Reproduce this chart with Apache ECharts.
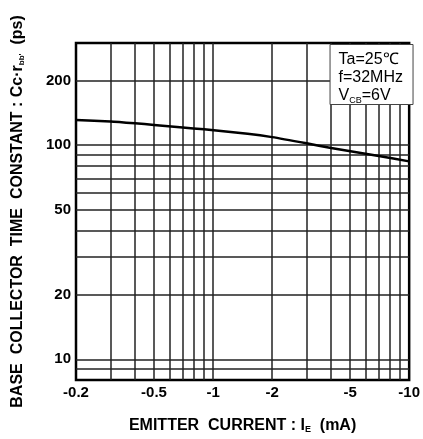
<!DOCTYPE html>
<html>
<head>
<meta charset="utf-8">
<script src="https://cdn.jsdelivr.net/npm/echarts@6/dist/echarts.min.js"></script>
<style>
html,body{margin:0;padding:0;background:#fff;}
#chart{width:423px;height:439px;}
</style>
</head>
<body>
<div id="chart"></div>
<script>
// Emitter current magnitude (mA); displayed with a minus sign
const currentMA = [0.2, 0.3, 0.4, 0.5, 0.7, 0.9, 1.5, 2, 3, 4, 7, 10];
// Base collector time constant (ps)
const timeConstPs = [131, 129, 126.5, 124.3, 121, 118.5, 113, 109, 102, 97, 89, 84];

const xTickLabels = [0.2, 0.5, 1, 2, 5, 10];
const xGridValues = [0.3, 0.4, 0.5, 0.6, 0.7, 0.8, 0.9, 1, 2, 3, 4, 5, 6, 7, 8, 9];
const yTickLabels = [10, 20, 50, 100, 200];
const yGridValues = [9, 10, 20, 30, 40, 50, 60, 70, 80, 90, 100, 200];

const font = '"Liberation Sans", Arial, Helvetica, sans-serif';

const chart = echarts.init(document.getElementById('chart'), null, {renderer: 'canvas'});

chart.setOption({
  animation: false,
  backgroundColor: '#fff',
  title: {
    right: 10,
    top: 43,
    padding: [8, 10, 0, 9],
    backgroundColor: '#fff',
    borderColor: '#444',
    borderWidth: 1,
    text: '{t|Ta=25℃}\n{t|f=32MHz}\n{t|V}{s|CB}{t|=6V}',
    textStyle: {
      rich: {
        t: {fontFamily: font, fontSize: 16, fontWeight: 'normal', color: '#000', lineHeight: 18},
        s: {fontFamily: font, fontSize: 9, fontWeight: 'normal', color: '#000', lineHeight: 18, verticalAlign: 'bottom', padding: [6, 0, 0, 0]}
      }
    },
    z: 10
  },
  grid: {
    left: 76, right: 10, top: 43, bottom: 56,
    show: true, borderColor: '#000', borderWidth: 2.5,
    containLabel: false
  },
  xAxis: {
    type: 'log',
    logBase: 10,
    min: 0.2,
    max: 10,
    name: '{t|EMITTER  CURRENT : I}{s|E}{t|  (mA)}',
    nameLocation: 'middle',
    nameGap: 38,
    nameTextStyle: {
      rich: {
        t: {fontFamily: font, fontSize: 16, fontWeight: 'bold', color: '#000'},
        s: {fontFamily: font, fontSize: 9, fontWeight: 'bold', color: '#000', verticalAlign: 'bottom', padding: [5, 0, 0, 0]}
      }
    },
    axisLine: {show: false},
    axisTick: {show: false, customValues: xGridValues},
    axisLabel: {
      customValues: xTickLabels,
      formatter: v => '-' + v,
      fontFamily: font, fontSize: 15, fontWeight: 'bold', color: '#000', margin: 5,
      showMinLabel: true, showMaxLabel: true
    },
    splitLine: {show: true, lineStyle: {color: '#222', width: 1.5}},
    minorSplitLine: {show: false}
  },
  yAxis: {
    type: 'log',
    logBase: 10,
    min: 8,
    max: 300,
    name: '{t|BASE  COLLECTOR  TIME  CONSTANT : Cc·r}{s|bb\'}{t|  (ps)}',
    nameLocation: 'middle',
    nameGap: 50,
    nameRotate: 90,
    nameTextStyle: {
      rich: {
        t: {fontFamily: font, fontSize: 16, fontWeight: 'bold', color: '#000'},
        s: {fontFamily: font, fontSize: 8, fontWeight: 'bold', color: '#000', verticalAlign: 'bottom', padding: [5, 0, 0, 0]}
      }
    },
    axisLine: {show: false},
    axisTick: {show: false, customValues: yGridValues},
    axisLabel: {
      customValues: yTickLabels,
      fontFamily: font, fontSize: 15, fontWeight: 'bold', color: '#000', margin: 5
    },
    splitLine: {show: true, lineStyle: {color: '#222', width: 1.5}}
  },
  series: [{
    type: 'line',
    data: currentMA.map((x, i) => [x, timeConstPs[i]]),
    smooth: 0.2,
    showSymbol: false,
    lineStyle: {color: '#000', width: 2.5},
    z: 5
  }]
});
</script>
</body>
</html>
